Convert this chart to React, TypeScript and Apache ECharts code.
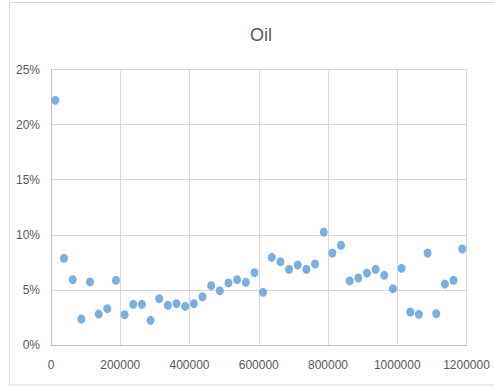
import React, { useEffect, useRef } from "react";
import * as echarts from "echarts";

const xValues = [
  12500, 37500, 62500, 87500, 112500, 137500, 162500, 187500, 212500, 237500,
  262500, 287500, 312500, 337500, 362500, 387500, 412500, 437500, 462500, 487500,
  512500, 537500, 562500, 587500, 612500, 637500, 662500, 687500, 712500, 737500,
  762500, 787500, 812500, 837500, 862500, 887500, 912500, 937500, 962500, 987500,
  1012500, 1037500, 1062500, 1087500, 1112500, 1137500, 1162500, 1187500,
];
const yValues = [
  0.222, 0.0787, 0.0593, 0.0236, 0.0572, 0.0281, 0.033, 0.0587, 0.0275, 0.0369,
  0.0369, 0.0224, 0.042, 0.036, 0.0375, 0.035, 0.0375, 0.0438, 0.0538, 0.0493,
  0.0563, 0.0593, 0.0569, 0.0656, 0.0478, 0.0796, 0.0756, 0.0687, 0.0726, 0.0687,
  0.0735, 0.1025, 0.0835, 0.0905, 0.0581, 0.0608, 0.0653, 0.0687, 0.0632, 0.0511,
  0.0696, 0.0299, 0.0278, 0.0835, 0.0284, 0.0553, 0.0587, 0.0871,
];
const chartTitle = "Oil";

export default function App() {
  const ref = useRef<HTMLDivElement>(null);
  useEffect(() => {
    if (!ref.current) return;
    const chart = echarts.init(ref.current, undefined, { renderer: "svg" });
    const font = "Liberation Sans";
    chart.setOption({
      animation: false,
      backgroundColor: "#ffffff",
      title: {
        text: chartTitle,
        left: 256,
        top: 21,
        textAlign: "center",
        textStyle: { fontFamily: font, fontSize: 18, fontWeight: "normal", color: "#595959" },
      },
      graphic: [
        {
          type: "rect",
          shape: { x: 9.5, y: 2.5, width: 500, height: 382.5 },
          style: { fill: "none", stroke: "#d9d9d9", lineWidth: 1 },
          silent: true,
          z: -1,
        },
      ],
      grid: { left: 51, right: 27.5, top: 69.5, bottom: 42, containLabel: false },
      xAxis: {
        type: "value",
        min: 0,
        max: 1200000,
        interval: 200000,
        axisLine: { show: true, lineStyle: { color: "#bfbfbf" } },
        axisTick: { show: false },
        splitLine: { show: true, lineStyle: { color: "#d9d9d9" } },
        axisLabel: {
          color: "#595959",
          fontFamily: font,
          fontSize: 12,
          margin: 14,
          formatter: (v: number) => String(v),
        },
      },
      yAxis: {
        type: "value",
        min: 0,
        max: 0.25,
        interval: 0.05,
        axisLine: { show: true, lineStyle: { color: "#bfbfbf" } },
        axisTick: { show: false },
        splitLine: { show: true, lineStyle: { color: "#d9d9d9" } },
        axisLabel: {
          color: "#595959",
          fontFamily: font,
          fontSize: 12,
          margin: 11,
          formatter: (v: number) => Math.round(v * 100) + "%",
        },
      },
      series: [
        {
          type: "scatter",
          data: xValues.map((x, i) => [x, yValues[i]]),
          symbol: "circle",
          symbolSize: [8, 9],
          itemStyle: { color: "#5B9BD5" },
        },
      ],
    });
    return () => chart.dispose();
  }, []);
  return (
    <div
      ref={ref}
      style={{ position: "fixed", left: 0, top: 0, width: 494, height: 387 }}
    />
  );
}
